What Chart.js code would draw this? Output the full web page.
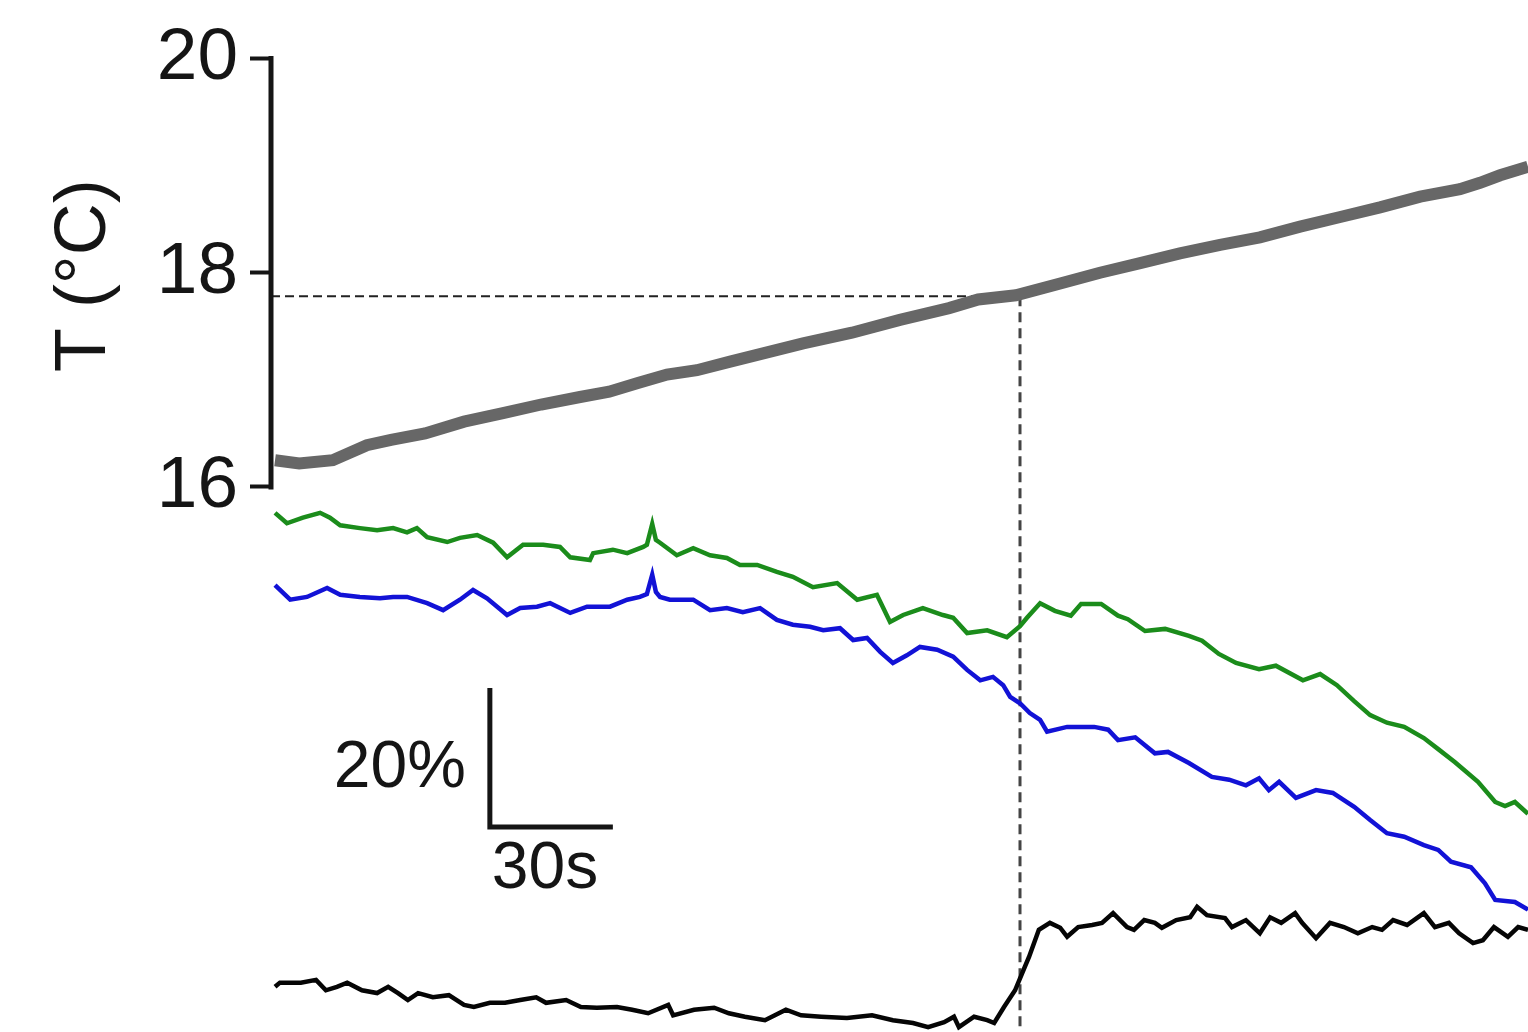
<!DOCTYPE html>
<html>
<head>
<meta charset="utf-8">
<script src="https://cdn.jsdelivr.net/npm/chart.js@4.4.1/dist/chart.umd.min.js"></script>
<style>
  html, body { margin: 0; padding: 0; background: #fff; }
  #wrap { width: 1528px; height: 1032px; position: relative; }
</style>
</head>
<body>
<div id="wrap"><canvas id="trace"></canvas></div>
<script>
// temperature trace (s, °C)
const grayTime = [0, 5.9, 14.1, 22.4, 28.3, 36.6, 46.1, 55.6, 64.9, 74.4, 81.5, 88.5, 95.6, 102.9, 111.0, 119.3, 128.8, 140.7, 152.4, 164.4, 171.5, 180.7, 191.5, 201.2, 211.0, 220.7, 230.5, 240.2, 250.0, 259.8, 269.5, 279.3, 289.0, 293.9, 298.8, 305.6];
const grayTemp = [16.25, 16.22, 16.25, 16.39, 16.44, 16.50, 16.61, 16.69, 16.77, 16.84, 16.89, 16.97, 17.05, 17.09, 17.17, 17.25, 17.34, 17.44, 17.56, 17.67, 17.75, 17.79, 17.90, 18.00, 18.09, 18.18, 18.26, 18.33, 18.43, 18.52, 18.61, 18.71, 18.78, 18.84, 18.91, 18.99];

// fluorescence traces (s, %)
const greenTime = [0, 2.9, 6.8, 11.0, 13.4, 15.9, 20.7, 24.9, 28.8, 32.2, 34.6, 37.1, 42.0, 45.1, 49.3, 53.2, 56.6, 60.5, 65.4, 69.5, 72.0, 76.8, 77.6, 82.4, 85.9, 89.8, 90.7, 92.0, 92.9, 93.9, 98.0, 102.0, 106.1, 110.2, 113.4, 117.6, 122.4, 126.3, 131.2, 137.1, 142.0, 146.8, 150.0, 153.2, 158.0, 162.9, 165.4, 168.8, 173.7, 178.5, 181.7, 183.4, 186.6, 190.2, 194.1, 196.6, 201.5, 205.6, 208.0, 212.2, 217.1, 222.9, 226.1, 230.2, 234.4, 240.0, 244.1, 250.7, 254.9, 259.0, 263.2, 267.1, 271.2, 275.4, 280.2, 283.7, 287.8, 293.4, 297.6, 300.0, 302.4, 305.6];
const greenPct = [74.7, 73.2, 74.0, 74.7, 74.0, 72.9, 72.5, 72.2, 72.5, 71.9, 72.5, 71.2, 70.5, 71.1, 71.5, 70.4, 68.3, 70.1, 70.1, 69.8, 68.3, 67.9, 68.9, 69.4, 68.9, 69.8, 70.1, 73.1, 70.8, 70.4, 68.6, 69.6, 68.6, 68.2, 67.2, 67.2, 66.2, 65.5, 64.0, 64.6, 62.2, 62.9, 59.0, 60.0, 61.0, 60.0, 59.6, 57.4, 57.8, 56.8, 58.4, 59.6, 61.7, 60.6, 59.9, 61.6, 61.6, 59.9, 59.4, 57.7, 58.0, 57.0, 56.3, 54.4, 53.1, 52.2, 52.7, 50.6, 51.5, 49.9, 47.6, 45.6, 44.5, 43.9, 42.3, 40.7, 38.8, 36.0, 33.1, 32.5, 33.1, 31.4];

const blueTime = [0, 3.7, 7.8, 12.7, 15.9, 20.7, 25.6, 28.8, 32.2, 37.1, 41.0, 45.1, 48.3, 51.7, 56.6, 59.8, 63.9, 67.1, 72.0, 76.1, 81.7, 85.9, 89.0, 90.7, 92.0, 92.9, 93.9, 96.3, 102.0, 106.1, 110.2, 114.1, 118.3, 122.4, 126.3, 130.5, 133.7, 137.8, 141.0, 144.4, 147.6, 150.7, 154.1, 157.3, 161.5, 165.4, 168.8, 172.0, 175.1, 177.6, 179.3, 181.7, 184.1, 186.6, 188.3, 193.2, 199.8, 203.2, 205.6, 209.8, 214.6, 217.8, 222.9, 228.5, 232.7, 236.8, 240.0, 242.4, 244.9, 249.0, 253.9, 258.0, 263.2, 267.1, 271.2, 275.4, 280.2, 283.7, 286.8, 291.7, 295.1, 297.6, 302.4, 305.6];
const bluePct = [64.3, 62.2, 62.6, 63.9, 62.9, 62.6, 62.4, 62.6, 62.6, 61.7, 60.7, 62.2, 63.6, 62.4, 60.0, 61.0, 61.2, 61.7, 60.3, 61.2, 61.2, 62.2, 62.6, 63.0, 65.8, 63.3, 62.6, 62.2, 62.2, 60.7, 61.0, 60.4, 61.0, 59.3, 58.6, 58.3, 57.8, 58.1, 56.4, 56.7, 54.7, 53.1, 54.2, 55.4, 55.0, 54.0, 52.1, 50.6, 51.1, 49.9, 48.2, 47.3, 45.9, 44.9, 43.2, 43.9, 43.9, 43.5, 42.0, 42.4, 40.1, 40.3, 38.7, 36.7, 36.3, 35.5, 36.5, 34.8, 36.0, 33.7, 34.8, 34.4, 32.4, 30.5, 28.6, 28.1, 26.9, 26.2, 24.5, 23.7, 21.4, 19.0, 18.7, 17.6];

const blackTime = [0, 1.2, 6.3, 10.0, 12.4, 15.1, 17.6, 21.2, 24.9, 27.6, 30.0, 32.4, 34.9, 38.5, 42.4, 46.1, 48.5, 52.4, 56.1, 59.8, 63.7, 66.1, 71.0, 74.6, 78.5, 83.4, 87.1, 91.0, 95.9, 97.1, 102.2, 107.1, 110.7, 114.6, 119.5, 124.6, 128.3, 133.2, 139.5, 145.6, 150.7, 155.6, 159.3, 163.2, 165.6, 166.8, 170.5, 173.7, 175.4, 177.8, 180.5, 182.9, 183.9, 186.3, 189.0, 191.5, 193.2, 195.9, 199.3, 201.7, 204.4, 207.8, 209.5, 212.0, 214.6, 216.3, 219.8, 223.2, 224.9, 227.3, 231.7, 233.4, 236.8, 240.2, 242.7, 245.4, 248.8, 250.5, 253.9, 257.3, 260.7, 264.1, 267.6, 270.0, 272.7, 276.1, 280.2, 282.9, 286.3, 288.8, 292.2, 294.6, 297.3, 300.7, 303.2, 305.6];
const blackPct = [6.5, 7.1, 7.1, 7.5, 6.0, 6.5, 7.1, 6.0, 5.6, 6.5, 5.6, 4.6, 5.6, 5.0, 5.3, 3.9, 3.6, 4.2, 4.2, 4.6, 5.0, 4.2, 4.6, 3.6, 3.5, 3.6, 3.2, 2.7, 3.9, 2.4, 3.2, 3.5, 2.7, 2.2, 1.7, 3.2, 2.4, 2.2, 2.0, 2.4, 1.7, 1.3, 0.7, 1.4, 2.2, 0.7, 2.2, 1.7, 1.3, 3.6, 6.0, 9.4, 10.8, 14.7, 15.7, 15.0, 13.7, 15.1, 15.4, 15.7, 17.1, 15.1, 14.7, 16.1, 15.7, 15.0, 16.1, 16.5, 18.0, 16.8, 16.4, 15.1, 16.1, 14.2, 16.5, 15.7, 17.1, 15.7, 13.5, 15.7, 15.1, 14.2, 15.1, 14.7, 16.1, 15.4, 17.1, 15.1, 15.7, 14.2, 12.8, 13.2, 15.1, 13.7, 15.1, 14.7];

// axis ticks, threshold marker, scale bar
const tempTicks = [16, 18, 20];
const markTime = 181.7;   // s
const markTemp = 17.78;   // °C
const scaleBarTime = 52.4; // s, start of bar
const scaleBarBase = 29.5; // %, corner of bar
const scaleBarSec = 30;
const scaleBarPct = 20;

const FONT = '"Liberation Sans", Arial, Helvetica, sans-serif';
Chart.defaults.font.family = FONT;

const X_MIN = -0.98, X_MAX = 305.6;
const T_MIN = 10.9125, T_MAX = 20.546;

function toPoints(xs, ys) {
    return xs.map((x, i) => ({ x: x, y: ys[i] }));
}

function lineSet(data, color, width, axis, extra) {
    return Object.assign({
        data: data,
        borderColor: color,
        borderWidth: width,
        pointRadius: 0,
        tension: 0,
        fill: false,
        yAxisID: axis
    }, extra || {});
}

// axis line (16-20 only), rotated title and scale bar labels
const annotations = {
    id: 'annotations',
    afterDatasetsDraw(chart) {
        const { ctx, chartArea } = chart;
        const x = chart.scales.x, y = chart.scales.y, y2 = chart.scales.y2;
        const yTop = y.getPixelForValue(tempTicks[tempTicks.length - 1]);
        const yBot = y.getPixelForValue(tempTicks[0]);
        ctx.save();
        ctx.strokeStyle = '#151515';
        ctx.lineWidth = 5;
        ctx.lineCap = 'square';
        ctx.beginPath();
        ctx.moveTo(chartArea.left, yTop);
        ctx.lineTo(chartArea.left, yBot);
        ctx.stroke();

        ctx.fillStyle = '#151515';
        ctx.font = '72px ' + FONT;
        ctx.save();
        ctx.translate(chartArea.left - 166, (yTop + yBot) / 2 + 3);
        ctx.rotate(-Math.PI / 2);
        ctx.textAlign = 'center';
        ctx.textBaseline = 'alphabetic';
        ctx.fillText('T (°C)', 0, 0);
        ctx.restore();

        const bx = x.getPixelForValue(scaleBarTime);
        const by0 = y2.getPixelForValue(scaleBarBase);
        const by1 = y2.getPixelForValue(scaleBarBase + scaleBarPct);
        ctx.font = '66px ' + FONT;
        ctx.textBaseline = 'alphabetic';
        ctx.textAlign = 'right';
        ctx.fillText(scaleBarPct + '%', bx - 24, (by0 + by1) / 2 + 30);
        ctx.textAlign = 'left';
        ctx.fillText(scaleBarSec + 's', bx + 2, by0 + 61);
        ctx.restore();
    }
};

const datasets = [
    lineSet(toPoints(grayTime, grayTemp), '#676767', 12, 'y', { borderCapStyle: 'butt' }),
    lineSet(toPoints(greenTime, greenPct), '#1b8c1b', 4.5, 'y2'),
    lineSet(toPoints(blueTime, bluePct), '#1212d6', 4.5, 'y2'),
    lineSet(toPoints(blackTime, blackPct), '#050505', 4.5, 'y2'),
    lineSet([{ x: X_MIN, y: markTemp }, { x: markTime, y: markTemp }], '#222', 2, 'y', { borderDash: [9, 5] }),
    lineSet([{ x: markTime, y: markTemp }, { x: markTime, y: T_MIN }], '#444', 3, 'y', { borderDash: [10, 6] }),
    lineSet([
        { x: scaleBarTime, y: scaleBarBase + scaleBarPct },
        { x: scaleBarTime, y: scaleBarBase },
        { x: scaleBarTime + scaleBarSec, y: scaleBarBase }
    ], '#151515', 5, 'y2', { borderJoinStyle: 'miter' })
];

new Chart(document.getElementById('trace'), {
    type: 'line',
    data: { datasets: datasets },
    options: {
        responsive: true,
        maintainAspectRatio: false,
        animation: false,
        events: [],
        layout: { padding: 0 },
        plugins: { legend: { display: false }, tooltip: { enabled: false } },
        scales: {
            x: { type: 'linear', display: false, min: X_MIN, max: X_MAX },
            y: {
                type: 'linear',
                position: 'left',
                min: T_MIN,
                max: T_MAX,
                afterBuildTicks: (s) => { s.ticks = tempTicks.map(v => ({ value: v })); },
                afterFit: (s) => { s.width = 271; s.paddingTop = 0; s.paddingBottom = 0; },
                ticks: { color: '#151515', font: { size: 73 }, padding: 12 },
                grid: { drawOnChartArea: false, tickLength: 21, tickWidth: 4, color: '#151515' },
                border: { display: false }
            },
            y2: { type: 'linear', display: false, min: 0, max: 148.49 }
        }
    },
    plugins: [annotations]
});
</script>
</body>
</html>
